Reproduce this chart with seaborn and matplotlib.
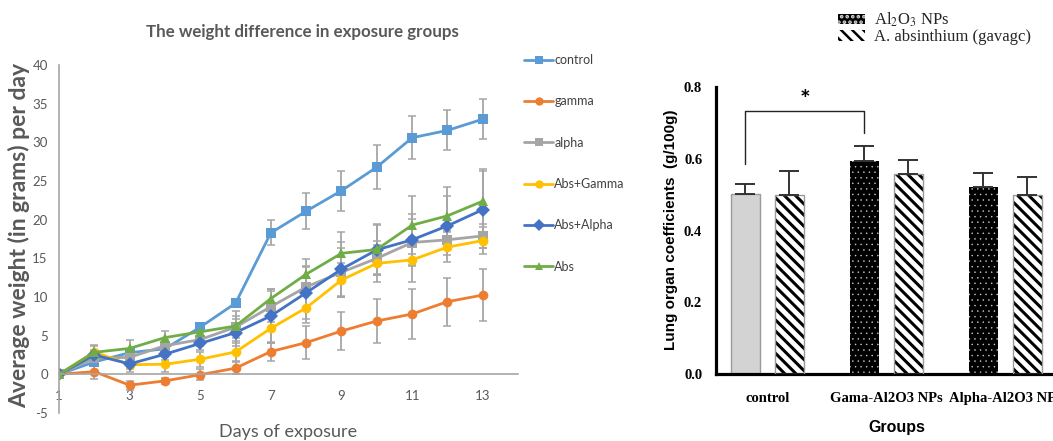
import numpy as np
import pandas as pd
import matplotlib
matplotlib.use("Agg")
import matplotlib.pyplot as plt
import seaborn as sns
from matplotlib.patches import Patch

# ---------------- data: left chart ----------------
days = list(range(1, 14))
control = [0, 1.6, 2.8, 3.3, 6.1, 9.2, 18.3, 21.1, 23.75, 26.8, 30.6, 31.55, 33.0]
gamma = [0, 0.35, -1.4, -0.85, -0.05, 0.8, 2.95, 4.1, 5.6, 6.9, 7.8, 9.4, 10.25]
alpha = [0, 2.1, 2.2, 3.7, 4.5, 6.1, 8.75, 11.3, 13.2, 15.0, 17.05, 17.4, 17.9]
abs_gamma = [0, 2.9, 1.25, 1.3, 1.95, 2.9, 5.95, 8.6, 12.2, 14.35, 14.8, 16.45, 17.3]
abs_alpha = [0, 2.5, 1.35, 2.6, 4.0, 5.4, 7.55, 10.55, 13.6, 16.1, 17.4, 19.2, 21.3]
abs_only = [0, 2.85, 3.35, 4.75, 5.5, 6.25, 9.8, 12.95, 15.65, 16.15, 19.3, 20.5, 22.4]

control_err = [0, 0.3, 0.3, 0.3, 0.4, 0.5, 1.6, 2.3, 2.6, 2.8, 2.8, 2.6, 2.6]
gamma_err = [0, 0.9, 0.6, 0.4, 0.7, 0.8, 1.2, 2.1, 2.5, 2.8, 3.2, 3.1, 3.4]
alpha_err = [0, 0.6, 0.8, 0.7, 0.8, 1.4, 2.0, 2.6, 3.2, 2.2, 3.0, 1.2, 1.5]
abs_gamma_err = [0, 0.7, 0.9, 0.95, 1.0, 1.2, 1.9, 2.0, 2.2, 2.35, 2.9, 1.9, 1.7]
abs_alpha_err = [0, 0.6, 0.7, 0.8, 0.9, 1.8, 3.5, 3.4, 3.5, 3.3, 3.3, 3.8, 5.0]
abs_only_err = [0, 0.9, 1.1, 0.85, 0.9, 2.0, 1.3, 2.0, 2.7, 3.2, 3.8, 3.7, 4.1]

series_names = ["control", "gamma", "alpha", "Abs+Gamma", "Abs+Alpha", "Abs"]
series_vals = [control, gamma, alpha, abs_gamma, abs_alpha, abs_only]
series_errs = [control_err, gamma_err, alpha_err, abs_gamma_err, abs_alpha_err, abs_only_err]
x_ticks = [1, 3, 5, 7, 9, 11, 13]
y_ticks = [-5, 0, 5, 10, 15, 20, 25, 30, 35, 40]

# ---------------- data: right chart ----------------
groups = ["control", "Gama-Al2O3 NPs", "Alpha-Al2O3 NPs"]
treatments = ["Al$_2$O$_3$ NPs", "A. absinthium (gavagc)"]
np_vals = [0.501, 0.595, 0.522]
np_err = [0.029, 0.042, 0.037]
abs_vals = [0.500, 0.558, 0.499]
abs_err = [0.067, 0.040, 0.050]
bar_ticks = [0.0, 0.2, 0.4, 0.6, 0.8]

# ---------------- style ----------------
sns.set_theme(style="white")
plt.rcParams["font.family"] = ["Lato", "DejaVu Sans"]
plt.rcParams["mathtext.fontset"] = "stix"
plt.rcParams["hatch.linewidth"] = 2.4

palette = {"control": "#5B9BD5", "gamma": "#ED7D31", "alpha": "#A5A5A5",
           "Abs+Gamma": "#FFC000", "Abs+Alpha": "#4472C4", "Abs": "#70AD47"}
markers = {"control": "s", "gamma": "o", "alpha": "s",
           "Abs+Gamma": "o", "Abs+Alpha": "D", "Abs": "^"}
txt = "#595959"

fig = plt.figure(figsize=(10.53, 4.41), dpi=100)

# ================= left: line chart =================
ax = fig.add_axes([0.0560, 0.0635, 0.436, 0.789])
long = pd.DataFrame({
    "day": np.tile(days, len(series_names)),
    "weight": np.concatenate(series_vals),
    "group": np.repeat(series_names, len(days)),
})
for vals, errs in zip(series_vals, series_errs):
    ax.errorbar(days, vals, yerr=errs, fmt="none", ecolor="#A6A6A6",
                elinewidth=1.3, capsize=3, capthick=1.1, zorder=1.5)
sns.lineplot(data=long, x="day", y="weight", hue="group", style="group",
             hue_order=series_names, style_order=series_names,
             palette=palette, markers=markers, dashes=False, linewidth=2,
             markersize=7, markeredgewidth=0, errorbar=None, ax=ax, zorder=2)

ax.set_xlim(1, 14)
ax.set_ylim(-5, 40)
ax.set_xticks(x_ticks)
ax.set_yticks(y_ticks)
ax.set_xticklabels([str(t) for t in x_ticks])
ax.set_yticklabels([str(t) for t in y_ticks])
ax.spines["bottom"].set_position(("data", 0))
for s in ["top", "right"]:
    ax.spines[s].set_visible(False)
for s in ["left", "bottom"]:
    ax.spines[s].set_color("#A6A6A6")
    ax.spines[s].set_linewidth(1.2)
ax.tick_params(axis="both", length=0, labelsize=9.5, colors=txt)
ax.tick_params(axis="x", pad=11)
ax.tick_params(axis="y", pad=8)
ax.set_xlabel("Days of exposure", fontsize=13, color=txt)
ax.xaxis.set_label_coords(0.50, -0.032)
ax.set_ylabel("Average weight (in grams) per day", fontsize=16.5,
              fontweight="bold", color=txt)
ax.yaxis.set_label_coords(-0.062, 0.51)
ax.text(0.53, 1.095, "The weight difference in exposure groups",
        transform=ax.transAxes, ha="center", va="center", fontsize=12.2,
        fontweight="bold", color=txt)

handles, labels = ax.get_legend_handles_labels()
if ax.get_legend() is not None:
    ax.get_legend().remove()
for h in handles:
    try:
        h.set_markersize(6)
    except Exception:
        pass
fig.legend(handles, labels, loc="upper left", bbox_to_anchor=(0.492, 0.892),
           frameon=False, fontsize=9, labelspacing=2.35, handlelength=2.3,
           handletextpad=0.1, borderpad=0, labelcolor="#404040")

# ================= right: bar chart =================
ax2 = fig.add_axes([0.680, 0.1519, 0.3424, 0.667])
bars = pd.DataFrame({
    "group": groups * 2,
    "value": np_vals + abs_vals,
    "treatment": [treatments[0]] * 3 + [treatments[1]] * 3,
})
sns.barplot(data=bars, x="group", y="value", hue="treatment",
            order=groups, hue_order=treatments, width=0.74, gap=0.34,
            errorbar=None, legend=False, ax=ax2)

np_bars = list(ax2.containers[0])
abs_bars = list(ax2.containers[1])


def set_hlw(p, lw):
    if hasattr(p, "set_hatch_linewidth"):
        p.set_hatch_linewidth(lw)


for i, b in enumerate(np_bars):
    if i == 0:
        b.set_facecolor("#D3D3D3")
        b.set_edgecolor("#9A9A9A")
        b.set_linewidth(1.0)
    else:
        b.set_facecolor("black")
        b.set_edgecolor("#D0D0D0")
        b.set_hatch("...")
        b.set_linewidth(0)
        set_hlw(b, 0.3)
for b in abs_bars:
    b.set_facecolor("white")
    b.set_edgecolor("black")
    b.set_hatch("\\\\\\")
    b.set_linewidth(0)
    set_hlw(b, 2.2)
    ax2.add_patch(plt.Rectangle((b.get_x(), 0), b.get_width(), b.get_height(),
                                fill=False, edgecolor="#9A9A9A", lw=1.0, zorder=3))

np_x = [b.get_x() + b.get_width() / 2 for b in np_bars]
abs_x = [b.get_x() + b.get_width() / 2 for b in abs_bars]
ax2.errorbar(np_x, np_vals, yerr=[np.zeros(3), np_err], fmt="none",
             ecolor="#333333", elinewidth=1.4, capsize=7, capthick=1.4, zorder=4)
ax2.errorbar(abs_x, abs_vals, yerr=[np.zeros(3), abs_err], fmt="none",
             ecolor="#333333", elinewidth=1.4, capsize=7, capthick=1.4, zorder=4)

# significance bracket
ax2.plot([np_x[0], np_x[0], np_x[1], np_x[1]], [0.585, 0.734, 0.734, 0.672],
         color="#222222", lw=1.0, zorder=5)
ax2.text((np_x[0] + np_x[1]) / 2, 0.762, "*", ha="center", va="center",
         fontsize=18, fontweight="bold", color="black")

ax2.set_xlim(-0.43, 2.6)
ax2.set_ylim(0, 0.82)
ax2.set_yticks(bar_ticks)
ax2.set_yticklabels([f"{t:.1f}" for t in bar_ticks],
                    family=["Liberation Serif"], fontweight="bold", fontsize=10.5)
ax2.set_xticks(range(len(groups)))
ax2.set_xticklabels(groups, family=["Liberation Serif"], fontweight="bold",
                    fontsize=10.5)
for s in ["top", "right"]:
    ax2.spines[s].set_visible(False)
for s in ["left", "bottom"]:
    ax2.spines[s].set_color("black")
    ax2.spines[s].set_linewidth(2.3)
ax2.spines["left"].set_bounds(0, 0.8)
ax2.tick_params(axis="both", direction="out", length=8, width=2.3,
                color="black", labelcolor="black")
ax2.tick_params(axis="x", pad=5)
ax2.tick_params(axis="y", pad=2)
ax2.set_xlabel("Groups", fontsize=11.5, fontweight="bold",
               family=["Liberation Sans"], color="black")
ax2.set_ylabel("Lung organ coefficients  (g/100g)", fontsize=11,
               fontweight="bold", family=["Liberation Sans"], color="black")
ax2.xaxis.set_label_coords((897 - 716) / (0.3424 * 1053), -0.155)
ax2.yaxis.set_label_coords(-(716 - 678) / (0.3424 * 1053), 0.49)

leg_h = [Patch(facecolor="black", edgecolor="#D0D0D0", hatch="...", lw=0),
         Patch(facecolor="white", edgecolor="black", hatch="\\\\\\", lw=0)]
leg2 = fig.legend(leg_h, treatments, loc="upper left",
                  bbox_to_anchor=(0.788, 0.994), frameon=False,
                  prop={"family": ["Liberation Serif"], "size": 12},
                  handlelength=1.6, handleheight=0.55, labelspacing=0.0,
                  handletextpad=0.55, borderpad=0)
for p in leg2.get_patches():
    set_hlw(p, 1.8)

fig.savefig("out.png", dpi=100)
